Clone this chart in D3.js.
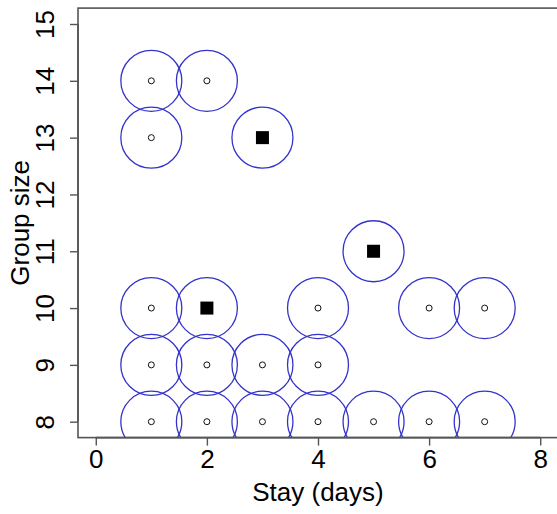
<!DOCTYPE html>
<html>
<head>
<meta charset="utf-8">
<script src="https://cdn.jsdelivr.net/npm/d3@7"></script>
<style>
  html, body { margin: 0; padding: 0; background: #fff; }
  svg { display: block; }
  text { font-family: "Liberation Sans", Arial, sans-serif; fill: #000; }
</style>
</head>
<body>
<svg id="chart" width="557" height="514"></svg>
<script>
// Group observations: stay length (days) vs group size
const stayDays  = [1, 2, 1, 3, 5, 1, 2, 4, 6, 7, 1, 2, 3, 4, 1, 2, 3, 4, 5, 6, 7];
const groupSize = [14, 14, 13, 13, 11, 10, 10, 10, 10, 10, 9, 9, 9, 9, 8, 8, 8, 8, 8, 8, 8];
// 1 = highlighted group (filled square), 0 = ordinary group (open dot)
const highlighted = [0, 0, 0, 1, 1, 0, 1, 0, 0, 0, 0, 0, 0, 0, 0, 0, 0, 0, 0, 0, 0];

const xTicks = [0, 2, 4, 6, 8];
const yTicks = [8, 9, 10, 11, 12, 13, 14, 15];
const xLimits = [0, 8];
const yLimits = [8, 15];
const xTitle = "Stay (days)";
const yTitle = "Group size";

const svg = d3.select("#chart");
const plot = { left: 78, right: 558, top: 8.1, bottom: 437.6 };

// 4% padding around the axis limits
const pad = (lim) => { const d = (lim[1] - lim[0]) * 0.04; return [lim[0] - d, lim[1] + d]; };

const x = d3.scaleLinear().domain(pad(xLimits)).range([plot.left, plot.right]);
const y = d3.scaleLinear().domain(pad(yLimits)).range([plot.bottom, plot.top]);

const points = stayDays.map((s, i) => ({ s, g: groupSize[i], h: highlighted[i] }));

const clip = svg.append("clipPath").attr("id", "plotClip")
  .append("rect")
  .attr("x", plot.left).attr("y", plot.top)
  .attr("width", plot.right - plot.left).attr("height", plot.bottom - plot.top);

const inner = svg.append("g").attr("clip-path", "url(#plotClip)");

// large circles around each group
inner.selectAll("circle.ring").data(points).join("circle")
  .attr("class", "ring")
  .attr("cx", d => x(d.s)).attr("cy", d => y(d.g))
  .attr("r", 30.5)
  .attr("fill", "none")
  .attr("stroke", "#3333cc")
  .attr("stroke-width", 1.3);

// ordinary groups: small open dots
inner.selectAll("circle.dot").data(points.filter(d => !d.h)).join("circle")
  .attr("class", "dot")
  .attr("cx", d => x(d.s)).attr("cy", d => y(d.g))
  .attr("r", 3)
  .attr("fill", "none")
  .attr("stroke", "#111")
  .attr("stroke-width", 1);

// highlighted groups: filled squares
const sq = 13;
inner.selectAll("rect.mark").data(points.filter(d => d.h)).join("rect")
  .attr("class", "mark")
  .attr("x", d => x(d.s) - sq / 2).attr("y", d => y(d.g) - sq / 2)
  .attr("width", sq).attr("height", sq)
  .attr("fill", "#000");

// plot frame
svg.append("rect")
  .attr("x", plot.left).attr("y", plot.top)
  .attr("width", plot.right - plot.left).attr("height", plot.bottom - plot.top)
  .attr("fill", "none").attr("stroke", "#555").attr("stroke-width", 1.6);

const fontSize = 26;
const tickLen = 8;

// x axis
const xAxis = svg.append("g").attr("transform", `translate(0,${plot.bottom})`)
  .call(d3.axisBottom(x).tickValues(xTicks).tickSize(tickLen).tickPadding(4).tickFormat(d3.format("d")));
xAxis.select(".domain").attr("stroke", "#555").attr("stroke-width", 1.6)
  .attr("d", `M${x(xTicks[0])},0H${x(xTicks[xTicks.length - 1])}`);
xAxis.selectAll(".tick line").attr("stroke", "#555").attr("stroke-width", 1.4);
xAxis.selectAll(".tick text").attr("font-size", fontSize).attr("font-family", null)
  .attr("fill", "#000").attr("dy", null).attr("y", 468 - plot.bottom);

// y axis with labels parallel to the axis
const yAxis = svg.append("g").attr("transform", `translate(${plot.left},0)`)
  .call(d3.axisLeft(y).tickValues(yTicks).tickSize(tickLen).tickFormat(d3.format("d")));
yAxis.select(".domain").attr("stroke", "#555").attr("stroke-width", 1.6)
  .attr("d", `M0,${y(yTicks[0])}V${y(yTicks[yTicks.length - 1])}`);
yAxis.selectAll(".tick line").attr("stroke", "#555").attr("stroke-width", 1.4);
yAxis.selectAll(".tick text")
  .attr("font-size", fontSize).attr("font-family", null).attr("fill", "#000")
  .attr("x", null).attr("dy", null)
  .attr("text-anchor", "middle")
  .attr("transform", `translate(${54 - plot.left},0) rotate(-90)`);

// axis titles
svg.append("text")
  .attr("x", (x(xLimits[0]) + x(xLimits[1])) / 2).attr("y", 501)
  .attr("text-anchor", "middle").attr("font-size", fontSize)
  .text(xTitle);

svg.append("text")
  .attr("transform", `translate(29,${(plot.top + plot.bottom) / 2}) rotate(-90)`)
  .attr("text-anchor", "middle").attr("font-size", fontSize)
  .text(yTitle);
</script>
</body>
</html>
